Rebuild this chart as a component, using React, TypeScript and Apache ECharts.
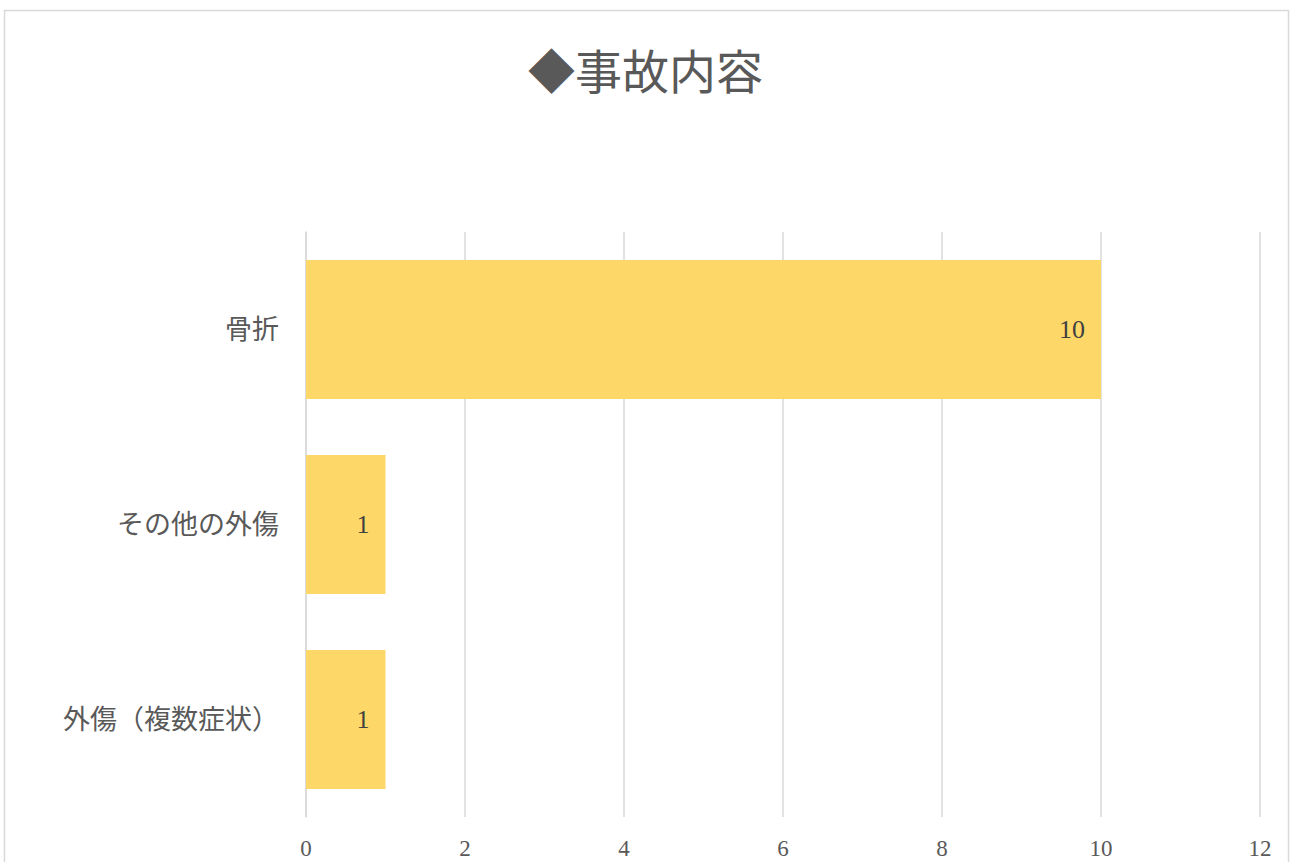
import React, { useEffect, useRef } from "react";
import * as echarts from "echarts";

const categories = ["骨折", "その他の外傷", "外傷（複数症状）"];
const counts = [10, 1, 1];
const axisMin = 0;
const axisMax = 12;
const axisStep = 2;
const titleText = "◆事故内容";

export default function App() {
  const ref = useRef<HTMLDivElement>(null);
  useEffect(() => {
    document.body.style.margin = "0";
    const chart = echarts.init(ref.current!, null, { renderer: "svg" });
    const serif = "'Liberation Serif', 'DejaVu Serif', 'Noto Sans CJK JP', serif";
    chart.setOption({
      animation: false,
      backgroundColor: "#ffffff",
      title: {
        text: titleText,
        left: "center",
        top: 40,
        textStyle: {
          fontFamily: "'Noto Sans CJK JP', sans-serif",
          fontSize: 47,
          fontWeight: "normal",
          color: "#595959",
        },
      },
      graphic: [
        {
          type: "rect",
          shape: { x: 4.5, y: 10.5, width: 1284, height: 900 },
          style: { fill: "none", stroke: "#d9d9d9", lineWidth: 1.5 },
          silent: true,
        },
      ],
      grid: { left: 306, right: 31, top: 232, bottom: 45, containLabel: false },
      xAxis: {
        type: "value",
        min: axisMin,
        max: axisMax,
        interval: axisStep,
        axisLine: { show: false },
        axisTick: { show: false },
        splitLine: { show: true, lineStyle: { color: "#d9d9d9", width: 1.5 } },
        axisLabel: {
          color: "#595959",
          fontSize: 23,
          fontFamily: serif,
          margin: 20,
        },
      },
      yAxis: {
        type: "category",
        data: categories,
        inverse: true,
        axisLine: { show: true, lineStyle: { color: "#d9d9d9", width: 1.5 } },
        axisTick: { show: false },
        axisLabel: {
          color: "#595959",
          fontSize: 27,
          fontFamily: serif,
          margin: 27,
        },
      },
      series: [
        {
          type: "bar",
          data: counts,
          barWidth: 139,
          itemStyle: { color: "#FDD868" },
          label: {
            show: true,
            position: "insideRight",
            distance: 16,
            color: "#404040",
            fontSize: 26,
            fontFamily: serif,
          },
        },
      ],
    });
    return () => chart.dispose();
  }, []);
  return <div ref={ref} style={{ width: 1291, height: 862 }} />;
}
